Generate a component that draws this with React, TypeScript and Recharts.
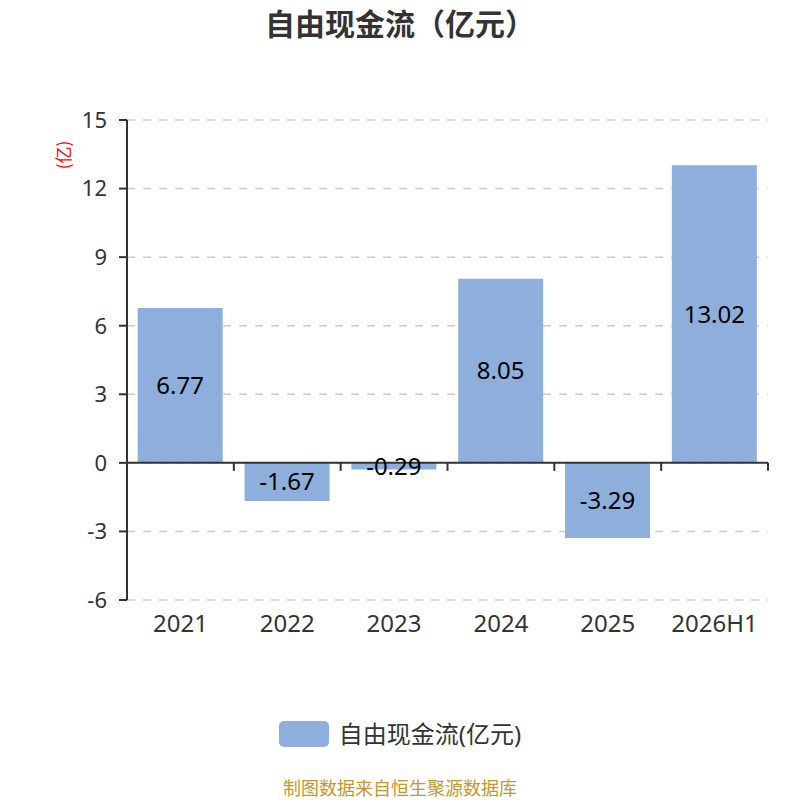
import React from 'react';
import { Bar, BarChart, CartesianGrid, LabelList, Legend, ReferenceLine, XAxis, YAxis } from 'recharts';

const years = ['2021', '2022', '2023', '2024', '2025', '2026H1'];
const freeCashFlow = [6.77, -1.67, -0.29, 8.05, -3.29, 13.02];
const yTicks = [-6, -3, 0, 3, 6, 9, 12, 15];

const data = years.map((year, i) => ({ year, value: freeCashFlow[i] }));

const FONT = '"Noto Sans", "Noto Sans CJK SC", sans-serif';
const CJK_FONT = '"Noto Sans CJK SC", sans-serif';
const BAR_COLOR = '#8eaedb';
const AXIS_COLOR = '#333';

function LegendContent() {
  return (
    <div style={{ display: 'flex', justifyContent: 'center', alignItems: 'center', fontFamily: FONT }}>
      <span style={{ width: 50, height: 26, borderRadius: 5, background: BAR_COLOR, display: 'inline-block' }} />
      <span style={{ marginLeft: 10, fontSize: 24, color: '#333', lineHeight: '30px' }}>自由现金流(亿元)</span>
    </div>
  );
}

export default function App() {
  return (
    <div style={{ position: 'absolute', left: 0, top: 0, width: 800, height: 800, background: '#fff', fontFamily: FONT, overflow: 'hidden' }}>
      <div style={{ position: 'absolute', top: 1, left: 8, width: 784, textAlign: 'center', fontSize: 30, lineHeight: '42px', fontWeight: 'bold', color: '#333', fontFamily: CJK_FONT }}>
        自由现金流（亿元）
      </div>
      <div style={{ position: 'absolute', left: 62, top: 155, transform: 'translate(-50%, -50%) rotate(-90deg)', color: 'red', fontSize: 17, whiteSpace: 'nowrap', fontFamily: CJK_FONT }}>
        (亿)
      </div>
      <BarChart
        width={800}
        height={800}
        data={data}
        margin={{ top: 120, right: 32, left: 67, bottom: 130 }}
        barCategoryGap="10%"
      >
        <CartesianGrid vertical={false} stroke="#ccc" strokeDasharray="8 8" strokeWidth={1.5} />
        <XAxis
          dataKey="year"
          height={40}
          axisLine={false}
          tickLine={false}
          tickMargin={9}
          tick={{ fill: '#333', fontSize: 24, fontFamily: FONT }}
        />
        <YAxis
          width={60}
          domain={[-6, 15]}
          ticks={yTicks}
          interval={0}
          axisLine={{ stroke: AXIS_COLOR, strokeWidth: 2 }}
          tickLine={{ stroke: AXIS_COLOR, strokeWidth: 2 }}
          tickSize={8}
          tickMargin={12}
          tick={{ fill: '#333', fontSize: 22, fontFamily: FONT }}
        />
        <Legend
          verticalAlign="bottom"
          wrapperStyle={{ top: 719, left: 0, width: 800 }}
          content={<LegendContent />}
        />
        <Bar dataKey="value" name="自由现金流(亿元)" fill={BAR_COLOR} isAnimationActive={false}>
          <LabelList dataKey="value" position="center" fill="#000" fontSize={24} fontFamily={FONT} />
        </Bar>
        <ReferenceLine y={0} stroke={AXIS_COLOR} strokeWidth={2} />
        {years.slice(1).map((year) => (
          <ReferenceLine
            key={year}
            segment={[{ x: year, y: 0 }, { x: year, y: -0.35 }]}
            position="start"
            ifOverflow="visible"
            stroke={AXIS_COLOR}
            strokeWidth={2}
          />
        ))}
        <ReferenceLine
          segment={[{ x: years[years.length - 1], y: 0 }, { x: years[years.length - 1], y: -0.35 }]}
          position="end"
          ifOverflow="visible"
          stroke={AXIS_COLOR}
          strokeWidth={2}
        />
      </BarChart>
      <div style={{ position: 'absolute', top: 777, left: 0, width: 800, textAlign: 'center', fontSize: 18, lineHeight: '20px', color: '#c8962e', fontFamily: CJK_FONT }}>
        制图数据来自恒生聚源数据库
      </div>
    </div>
  );
}
